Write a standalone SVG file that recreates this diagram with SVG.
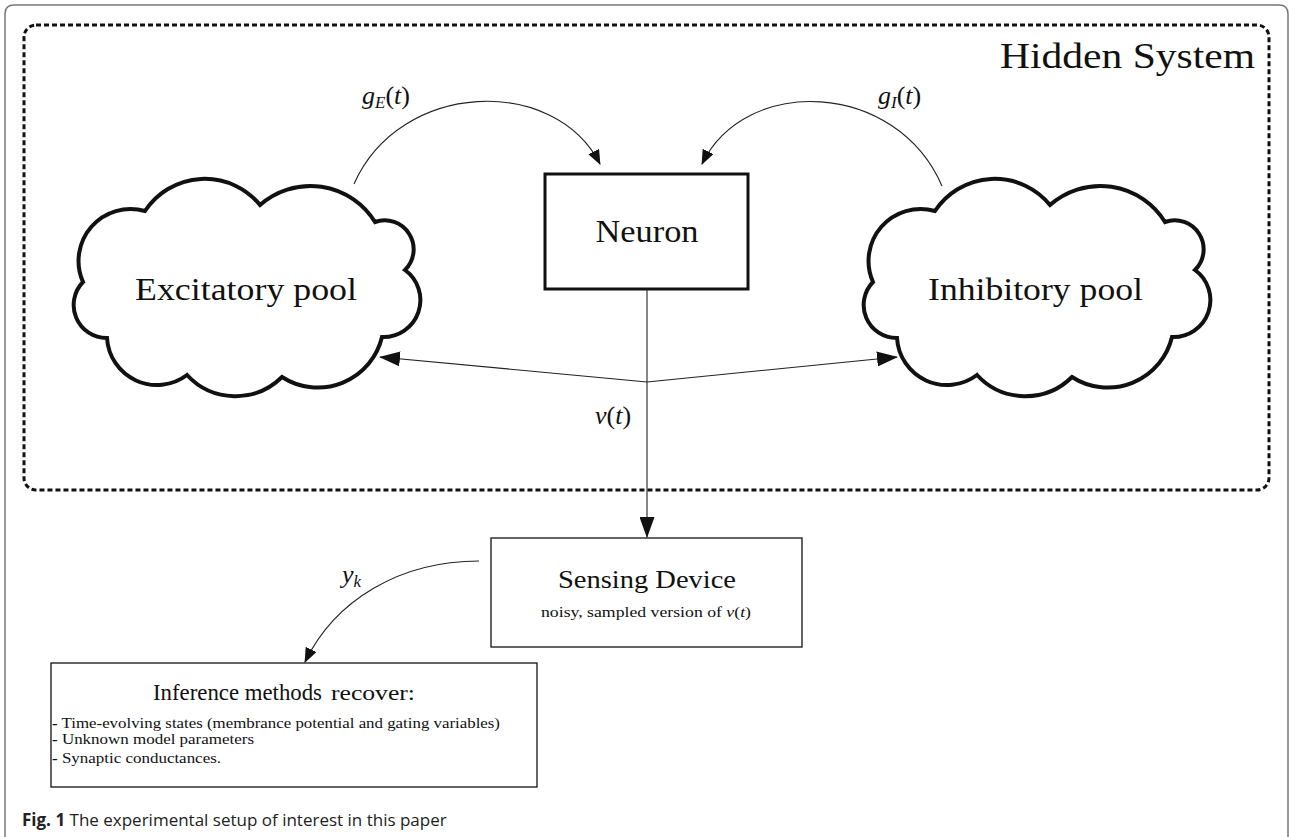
<svg xmlns="http://www.w3.org/2000/svg" width="1289" height="837" viewBox="0 0 1289 837">
<style>
.serif{font-family:"Liberation Serif","DejaVu Serif",serif;fill:#111}
.it{font-style:italic}
.conn{fill:none;stroke:#222;stroke-width:1.1}
.box{fill:#fff;stroke:#111}
.cloud{fill:#fff;stroke:#111;stroke-width:4;stroke-linejoin:miter}
.cap{font-family:"Open Sans","Liberation Sans",sans-serif;fill:#222}
</style>
<defs>
<marker id="ahBig" markerUnits="userSpaceOnUse" viewBox="0 0 21 15" markerWidth="21" markerHeight="15" refX="20" refY="7.5" orient="auto"><path d="M0,0 L21,7.5 L0,15 z" fill="#111"/></marker>
<marker id="ahSmall" markerUnits="userSpaceOnUse" viewBox="0 0 15 12" markerWidth="15" markerHeight="12" refX="14" refY="6" orient="auto"><path d="M0,0 L15,6 L0,12 z" fill="#111"/></marker>
<path id="cloudShape" d="M145,211 A71.5,71.5 0 0 1 260,205 A76,76 0 0 1 375,222 A29,29 0 0 1 405,270 A37,37 0 0 1 382,337 A66,66 0 0 1 282,377 A66,66 0 0 1 187,375 A50,50 0 0 1 107,338 A33,33 0 0 1 83,282 A52,52 0 0 1 145,211 Z"/>
</defs>
<rect width="1289" height="837" fill="#fff"/>
<path d="M5,837 V14 Q5,5 14,5 H1279 Q1288,5 1288,14 V837" fill="none" stroke="#777" stroke-width="1.5"/>
<g id="hidden-system">
<rect x="24" y="25" width="1245" height="465" rx="12" ry="12" fill="none" stroke="#111" stroke-width="3" stroke-dasharray="5 3"/>
<text class="serif" x="1255" y="68" font-size="36" text-anchor="end" textLength="255" lengthAdjust="spacingAndGlyphs">Hidden System</text>
</g>
<g id="excitatory-pool">
<use href="#cloudShape" class="cloud"/>
<text class="serif" x="246" y="300" font-size="32" text-anchor="middle" textLength="222" lengthAdjust="spacingAndGlyphs">Excitatory pool</text>
</g>
<g id="inhibitory-pool">
<use href="#cloudShape" class="cloud" transform="translate(790,0)"/>
<text class="serif" x="1035.5" y="300" font-size="32" text-anchor="middle" textLength="215" lengthAdjust="spacingAndGlyphs">Inhibitory pool</text>
</g>
<g id="neuron">
<rect class="box" x="545" y="174" width="203" height="115" stroke-width="3"/>
<text class="serif" x="647" y="242" font-size="32" text-anchor="middle" textLength="103" lengthAdjust="spacingAndGlyphs">Neuron</text>
</g>
<g id="sensing-device">
<rect class="box" x="491" y="538" width="311" height="109" stroke-width="1.3"/>
<text class="serif" x="647" y="588" font-size="25" text-anchor="middle" textLength="178" lengthAdjust="spacingAndGlyphs">Sensing Device</text>
<text class="serif" x="646" y="617" font-size="15" text-anchor="middle" textLength="210" lengthAdjust="spacingAndGlyphs">noisy, sampled version of <tspan class="it">v</tspan>(<tspan class="it">t</tspan>)</text>
</g>
<g id="inference-methods">
<rect class="box" x="51" y="663" width="486" height="124" stroke-width="1.3"/>
<text class="serif" x="153" y="700" font-size="24" textLength="169" lengthAdjust="spacingAndGlyphs">Inference methods</text>
<text class="serif" x="331" y="700" font-size="21" textLength="84" lengthAdjust="spacingAndGlyphs">recover:</text>
<text class="serif" x="52" y="728" font-size="14.5" textLength="448" lengthAdjust="spacingAndGlyphs"><tspan font-weight="bold">-</tspan> Time-evolving states (membrance potential and gating variables)</text>
<text class="serif" x="52" y="744" font-size="14.5" textLength="202" lengthAdjust="spacingAndGlyphs"><tspan font-weight="bold">-</tspan> Unknown model parameters</text>
<text class="serif" x="52" y="763" font-size="14.5" textLength="169" lengthAdjust="spacingAndGlyphs"><tspan font-weight="bold">-</tspan> Synaptic conductances.</text>
</g>
<g id="connectors">
<path class="conn" d="M354,184 C400,80 555,75 600,164" marker-end="url(#ahSmall)"/>
<path class="conn" d="M942,186 C896,80 745,75 702,164" marker-end="url(#ahSmall)"/>
<path class="conn" d="M647,289 V537" stroke="#444" marker-end="url(#ahBig)"/>
<path class="conn" d="M647,382 L380,357" marker-end="url(#ahBig)"/>
<path class="conn" d="M647,382 L897,357" marker-end="url(#ahBig)"/>
<path class="conn" d="M479,561 C400,561 335,600 305,662" marker-end="url(#ahSmall)"/>
<text class="serif" x="362" y="104" font-size="26"><tspan class="it">g</tspan><tspan class="it" font-size="17" dy="4">E</tspan><tspan dy="-4">(</tspan><tspan class="it">t</tspan>)</text>
<text class="serif" x="878" y="104" font-size="26"><tspan class="it">g</tspan><tspan class="it" font-size="17" dy="4">I</tspan><tspan dy="-4">(</tspan><tspan class="it">t</tspan>)</text>
<text class="serif" x="595" y="424" font-size="26"><tspan class="it">v</tspan>(<tspan class="it">t</tspan>)</text>
<text class="serif" x="342" y="583" font-size="26"><tspan class="it">y</tspan><tspan class="it" font-size="17" dy="4">k</tspan></text>
</g>
<text class="cap" x="22" y="826" font-size="17"><tspan font-weight="bold">Fig. 1</tspan> The experimental setup of interest in this paper</text>
</svg>
